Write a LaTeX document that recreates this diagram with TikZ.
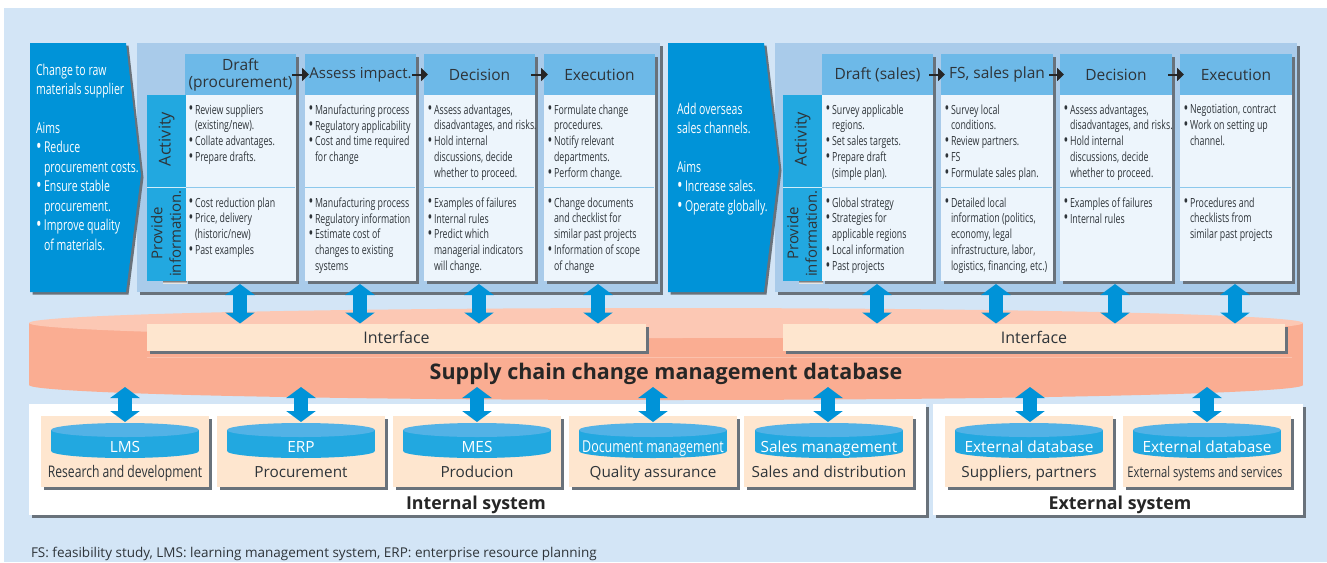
\documentclass[tikz,border=0pt]{standalone}
\usepackage{fontspec}
\setmainfont{Open Sans}
\newfontfamily\cond[FakeStretch=0.76]{Open Sans}
\newfontfamily\narr[FakeStretch=0.70]{Open Sans}
\usetikzlibrary{arrows.meta,shadows}
\definecolor{bgblue}{HTML}{D3E5F6}
\definecolor{panelblue}{HTML}{A9CBEA}
\definecolor{arrowblue}{HTML}{0093D8}
\definecolor{tabblue}{HTML}{22A8E0}
\definecolor{headblue}{HTML}{6DB9E8}
\definecolor{bodyblue}{HTML}{EDF5FC}
\definecolor{rule}{HTML}{8CC8EC}
\definecolor{topblue}{HTML}{52B2E6}
\definecolor{peach}{HTML}{FEE6CF}
\definecolor{salmon}{HTML}{FAAD92}
\definecolor{salmontop}{HTML}{FCC8B4}
\definecolor{shade}{HTML}{69727B}
\definecolor{ink}{HTML}{2E3439}
\tikzset{
  x=1pt,y=-1pt,
  shadowed/.style={general shadow={shadow xshift=2.5pt,shadow yshift=-2.5pt,fill=shade}},
  plain/.style={inner sep=0pt,outer sep=0pt,text=ink},
  panel/.style={plain,fill=panelblue,shadowed},
  colback/.style={plain,fill=bodyblue,shadowed},
  headbox/.style={plain,fill=headblue,font=\fontsize{15.5}{17}\selectfont,align=center},
  tabbox/.style={plain,fill=tabblue},
  whitebox/.style={plain,fill=white,shadowed},
  cardbox/.style={plain,fill=peach,shadowed},
  ifacebox/.style={plain,fill=peach,shadowed,font=\fontsize{16}{17}\selectfont},
  bodytext/.style={plain,anchor=north west,align=left,font=\narr\fontsize{12.6}{15.9}\selectfont},
  aimtext/.style={plain,anchor=north west,align=left,text=white,font=\narr\fontsize{15}{19.4}\selectfont},
  aimshape/.style={fill=arrowblue,shadowed},
  vlabel/.style={plain,rotate=90,align=center,font=\fontsize{15}{18.5}\selectfont},
  stepflow/.style={draw=black!85,line width=2pt,shorten <=-4pt,shorten >=-4pt,-{Triangle[length=7pt,width=13pt]}},
  fatlink/.style={draw=arrowblue,line width=14pt,{Triangle[length=11pt,width=29pt]}-{Triangle[length=11pt,width=29pt]}},
  dblabel/.style={plain,anchor=base,text=white,font=\fontsize{15.4}{17}\selectfont},
  dbcond/.style={plain,anchor=base,text=white,font=\cond\fontsize{16.4}{17}\selectfont},
  cardtext/.style={plain,anchor=base,font=\fontsize{15.3}{17}\selectfont},
  cardcond/.style={plain,anchor=base,font=\cond\fontsize{15}{17}\selectfont},
  systitle/.style={plain,anchor=base,text=black!85,font=\bfseries\fontsize{17.8}{19}\selectfont},
}
\newcommand\bx[7][]{\node[#6,minimum width={(#4-#2)*1pt},minimum height={(#5-#3)*1pt},#1] at ({(#2+#4)/2},{(#3+#5)/2}) {#7};}
\newcommand\bl[1]{\makebox[6.5pt][l]{\raisebox{-.6pt}{\fontsize{18}{0}\selectfont\textbullet}}#1}
\newcommand\ct[1]{\hspace*{6.5pt}#1}
\newcommand\am[1]{\makebox[8pt][l]{\raisebox{-.8pt}{\fontsize{21}{0}\selectfont\textbullet}}#1}
\newcommand\at[1]{\hspace*{8pt}#1}
% name, x1, x2, title, activity, info
\newcommand\column[6]{%
  \bx[name=#1back]{#2}{54}{#3}{281}{colback}{}
  \bx[name=#1]{#2}{54}{#3}{95}{headbox}{#4}
  \draw[rule,line width=.9pt] (#2,187.5) -- ({#3-1},187.5);
  \node[bodytext] (#1act) at ({#2+3.5},104.5) {#5};
  \node[bodytext] (#1inf) at ({#2+3.5},197.5) {#6};
}
% name, cx
\newcommand\cyl[2]{%
  \fill[tabblue] ({#2-74},430) rectangle ({#2+74},451);
  \fill[tabblue] (#2,451) ellipse [x radius=74,y radius=7];
  \fill[topblue] (#2,430) ellipse [x radius=74,y radius=7];
  \coordinate (#1) at (#2,452);
}
\newcommand\tab[1]{%
  \fill[shade] ({#1+16},281) rectangle ({#1+40},283.5);
  \bx[name=tab#1]{#1}{95}{#1+38.5}{281}{tabbox}{}
  \draw[white!80!tabblue,line width=.9pt] (#1,187.5) -- ({#1+38.5},187.5);
  \node[vlabel,font=\fontsize{16.3}{18.5}\selectfont] (act#1) at ({#1+19.5},139) {Activity};
  \node[vlabel] (inf#1) at ({#1+19},233.5) {Provide\\information.};
}
\begin{document}
\begin{tikzpicture}
\useasboundingbox (0,0) rectangle (1327,562);
\clip (0,0) rectangle (1327,562);
\fill[white] (0,0) rectangle (1327,562);
\fill[bgblue] (4,8) rectangle (1327,562);

% left group
\bx[name=panel1]{137}{43}{660}{292}{panel}{}
\path[aimshape] (30,43) -- (126,43) -- (141,175) -- (126,292) -- (30,292) -- cycle;
\node[aimtext] (aim1) at (36,64) {Change to raw\\materials supplier\\[19.4pt]Aims\\\am{Reduce}\\\at{procurement costs.}\\\am{Ensure stable}\\\at{procurement.}\\\am{Improve quality}\\\at{of materials.}};
\column{a1}{185}{296}{Draft\\(procurement)}{\bl{Review suppliers}\\\ct{(existing/new).}\\\bl{Collate advantages.}\\\bl{Prepare drafts.}}{\bl{Cost reduction plan}\\\bl{Price, delivery}\\\ct{(historic/new)}\\\bl{Past examples}}
\column{a2}{305}{416}{\fontsize{15}{17}\selectfont Assess impact.}{\bl{Manufacturing process}\\\bl{Regulatory applicability}\\\bl{Cost and time required}\\\ct{for change}}{\bl{Manufacturing process}\\\bl{Regulatory information}\\\bl{Estimate cost of}\\\ct{changes to existing}\\\ct{systems}}
\column{a3}{424}{535}{Decision}{\bl{Assess advantages,}\\\ct{disadvantages, and risks.}\\\bl{Hold internal}\\\ct{discussions, decide}\\\ct{whether to proceed.}}{\bl{Examples of failures}\\\bl{Internal rules}\\\bl{Predict which}\\\ct{managerial indicators}\\\ct{will change.}}
\column{a4}{544}{655}{Execution}{\bl{Formulate change}\\\ct{procedures.}\\\bl{Notify relevant}\\\ct{departments.}\\\bl{Perform change.}}{\bl{Change documents}\\\ct{and checklist for}\\\ct{similar past projects}\\\bl{Information of scope}\\\ct{of change}}
\tab{147}
\draw[stepflow] (a1) -- (a2);
\draw[stepflow] (a2) -- (a3);
\draw[stepflow] (a3) -- (a4);

% right group
\bx[name=panel2]{775}{43}{1297}{292}{panel}{}
\path[aimshape] (668,43) -- (764,43) -- (779,168) -- (764,292) -- (668,292) -- cycle;
\node[aimtext] (aim2) at (677,103) {Add overseas\\sales channels.\\[19.4pt]Aims\\\am{Increase sales.}\\\am{Operate globally.}};
\column{b1}{822}{933}{Draft (sales)}{\bl{Survey applicable}\\\ct{regions.}\\\bl{Set sales targets.}\\\bl{Prepare draft}\\\ct{(simple plan).}}{\bl{Global strategy}\\\bl{Strategies for}\\\ct{applicable regions}\\\bl{Local information}\\\bl{Past projects}}
\column{b2}{941}{1053}{FS, sales plan}{\bl{Survey local}\\\ct{conditions.}\\\bl{Review partners.}\\\bl{FS}\\\bl{Formulate sales plan.}}{\bl{Detailed local}\\\ct{information (politics,}\\\ct{economy, legal}\\\ct{infrastructure, labor,}\\\ct{logistics, financing, etc.)}}
\column{b3}{1060}{1172}{Decision}{\bl{Assess advantages,}\\\ct{disadvantages, and risks.}\\\bl{Hold internal}\\\ct{discussions, decide}\\\ct{whether to proceed.}}{\bl{Examples of failures}\\\bl{Internal rules}}
\column{b4}{1180}{1292}{Execution}{\bl{Negotiation, contract}\\\bl{Work on setting up}\\\ct{channel.}}{\bl{Procedures and}\\\ct{checklists from}\\\ct{similar past projects}}
\tab{783}
\draw[stepflow] (b1) -- (b2);
\draw[stepflow] (b2) -- (b3);
\draw[stepflow] (b3) -- (b4);

% database
\fill[salmon] (29,323) rectangle (1303,385);
\fill[salmon] (666,385) ellipse [x radius=637,y radius=15];
\fill[salmontop] (666,323) ellipse [x radius=637,y radius=15];
\draw[salmon!75!white,line width=.4pt] (147,357.5) -- (1292,357.5);
\bx[name=iface1]{147}{324}{646}{351}{ifacebox}{\raisebox{-1pt}{Interface}}
\bx[name=iface2]{783}{324}{1285}{351}{ifacebox}{\raisebox{-1pt}{Interface}}
\node[plain,font=\bfseries\fontsize{21.5}{24}\selectfont,text=black!85] (dbtitle) at (666,374) {Supply chain change management database};

% upper links
\foreach \n/\cx in {u1/240,u2/360,u3/479,u4/598,u5/877,u6/996,u7/1115,u8/1235}{
  \coordinate (\n t) at (\cx,284);
  \coordinate (\n b) at (\cx,323.5);
  \draw[fatlink] (\n t) -- (\n b);
}

% systems
\bx[name=internal]{29}{404}{926}{515}{whitebox}{}
\bx[name=external]{933}{404}{1303}{515}{whitebox}{}
\bx[name=c1]{41}{416}{209}{487}{cardbox}{}
\bx[name=c2]{217}{416}{385}{487}{cardbox}{}
\bx[name=c3]{393}{416}{561}{487}{cardbox}{}
\bx[name=c4]{569}{416}{737}{487}{cardbox}{}
\bx[name=c5]{744}{416}{913}{487}{cardbox}{}
\bx[name=c6]{945}{416}{1113}{487}{cardbox}{}
\bx[name=c7]{1123}{416}{1291}{487}{cardbox}{}
\cyl{d1}{125}\cyl{d2}{301}\cyl{d3}{477}\cyl{d4}{653}\cyl{d5}{829}\cyl{d6}{1029}\cyl{d7}{1207}
\node[dblabel] (l1) at (d1) {LMS};
\node[dblabel] (l2) at (d2) {ERP};
\node[dblabel] (l3) at (d3) {MES};
\node[dbcond] (l4) at (d4) {Document management};
\node[dblabel] (l5) at (d5) {Sales management};
\node[dblabel] (l6) at (d6) {External database};
\node[dblabel] (l7) at (d7) {External database};
\node[cardcond,font=\cond\fontsize{16}{17}\selectfont] (t1) at (125,477) {Research and development};
\node[cardtext] (t2) at (301,477) {Procurement};
\node[cardtext] (t3) at (477,477) {Producion};
\node[cardtext] (t4) at (653,477) {Quality assurance};
\node[cardtext] (t5) at (829,477) {Sales and distribution};
\node[cardtext] (t6) at (1029,477) {Suppliers, partners};
\node[cardcond,font=\cond\fontsize{14.7}{17}\selectfont] (t7) at (1205,477) {External systems and services};
\node[systitle] (s1) at (476,509) {Internal system};
\node[systitle] (s2) at (1120,509) {External system};

% lower links
\foreach \n/\cx in {v1/125,v2/301,v3/477,v4/653,v5/828,v6/1030,v7/1207}{
  \coordinate (\n t) at (\cx,387);
  \coordinate (\n b) at (\cx,422);
  \draw[fatlink] (\n t) -- (\n b);
}

\node[plain,anchor=base west,font=\fontsize{13.5}{15}\selectfont] (fn) at (31,557.5) {FS: feasibility study, LMS: learning management system, ERP: enterprise resource planning};
\end{tikzpicture}
\end{document}
